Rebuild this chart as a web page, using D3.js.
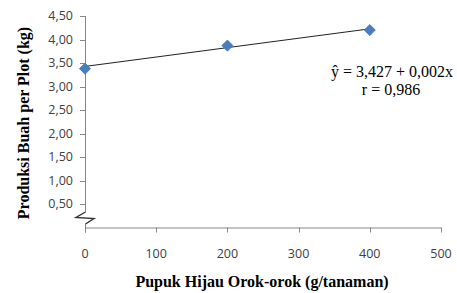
<!DOCTYPE html>
<meta charset="utf-8">
<style>
body { margin: 0; background: #fff; }
svg text { font-family: "Open Sans", "Liberation Sans", sans-serif; }
</style>
<svg id="chart" width="457" height="293"></svg>
<script src="https://cdn.jsdelivr.net/npm/d3@7"></script>
<script>
// data
var dosis = [0, 200, 400];
var produksi = [3.38, 3.87, 4.20];
var xTicks = [0, 100, 200, 300, 400, 500];
var yTicks = [0.5, 1, 1.5, 2, 2.5, 3, 3.5, 4, 4.5];
var intercept = 3.427, slope = 0.002;

var svg = d3.select("#chart");
var plotLeft = 85, plotRight = 441, plotTop = 16, plotBottom = 227.5;

var x = d3.scaleLinear().domain([0, 500]).range([plotLeft, plotRight]);
var y = d3.scaleLinear().domain([0, 4.5]).range([plotBottom, plotTop]);
var fmt = function(d){ return d3.format(".2f")(d).replace(".", ","); };
var axisCol = "#868686";
var serif = "'Liberation Serif', 'Times New Roman', serif";

// x axis
svg.append("line").attr("x1", plotLeft).attr("x2", plotRight).attr("y1", plotBottom + 0.5).attr("y2", plotBottom + 0.5)
  .attr("stroke", axisCol);
xTicks.forEach(function(t){
  var px = Math.round(x(t)) + 0.5;
  svg.append("line").attr("x1", px).attr("x2", px).attr("y1", plotBottom).attr("y2", plotBottom + 5).attr("stroke", axisCol);
  svg.append("text").attr("x", x(t)).attr("y", 258).attr("text-anchor", "middle")
    .attr("font-size", 12.5).attr("fill", "#404040").text(t);
});

// y axis, broken near the bottom
var ax = plotLeft + 0.5;
svg.append("line").attr("x1", ax).attr("x2", ax).attr("y1", plotTop).attr("y2", 212).attr("stroke", axisCol);
svg.append("line").attr("x1", ax).attr("x2", ax).attr("y1", 224).attr("y2", plotBottom + 5).attr("stroke", axisCol);
svg.append("path").attr("d", "M" + ax + ",212 L76,217.5 L94,218.5 L" + ax + ",224")
  .attr("fill", "none").attr("stroke", "#333").attr("stroke-width", 1.4);
yTicks.forEach(function(t){
  var py = Math.round(y(t)) + 0.5;
  svg.append("line").attr("x1", plotLeft - 5).attr("x2", plotLeft).attr("y1", py).attr("y2", py).attr("stroke", axisCol);
  svg.append("text").attr("x", 73).attr("y", y(t)).attr("dy", "0.35em").attr("text-anchor", "end")
    .attr("font-size", 12.5).attr("fill", "#404040").text(fmt(t));
});

// regression line
svg.append("line")
  .attr("x1", x(0)).attr("y1", y(intercept))
  .attr("x2", x(400)).attr("y2", y(intercept + slope * 400))
  .attr("stroke", "#222").attr("stroke-width", 1);

// markers (square turned 45deg)
svg.selectAll("path.pt").data(dosis).enter().append("path")
  .attr("class", "pt")
  .attr("d", d3.symbol().type(d3.symbolSquare).size(62))
  .attr("transform", function(d, i){ return "translate(" + x(d) + "," + y(produksi[i]) + ") rotate(45)"; })
  .attr("fill", "#4a7ebb").attr("stroke", "#4a7ebb").attr("stroke-width", 0.8);

// equation
svg.append("text").attr("x", 392).attr("y", 77).attr("text-anchor", "middle")
  .style("font-family", serif).attr("font-size", 16).attr("fill", "#000")
  .text("ŷ = 3,427 + 0,002x");
svg.append("text").attr("x", 391).attr("y", 95).attr("text-anchor", "middle")
  .style("font-family", serif).attr("font-size", 16).attr("fill", "#000")
  .text("r = 0,986");

// axis titles
svg.append("text").attr("x", 262).attr("y", 287).attr("text-anchor", "middle")
  .style("font-family", serif).attr("font-weight", "bold").attr("font-size", 16)
  .text("Pupuk Hijau Orok-orok (g/tanaman)");
svg.append("text").attr("transform", "translate(29,123) rotate(-90)").attr("text-anchor", "middle")
  .style("font-family", serif).attr("font-weight", "bold").attr("font-size", 16)
  .text("Produksi Buah per Plot (kg)");
</script>
